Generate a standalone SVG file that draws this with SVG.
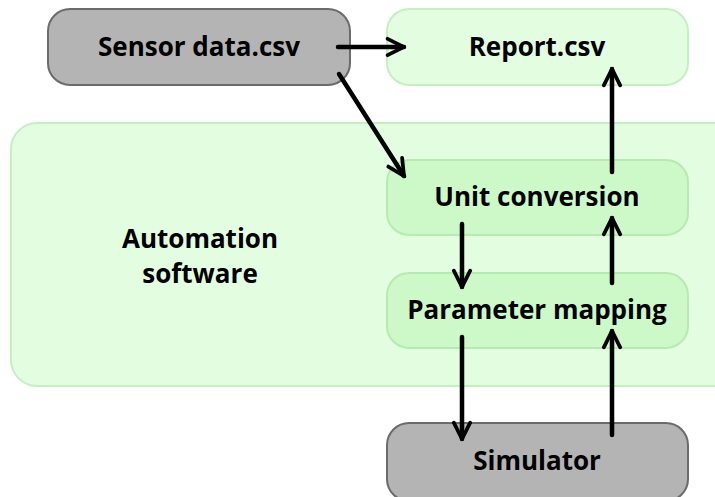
<svg xmlns="http://www.w3.org/2000/svg" width="715" height="497" viewBox="0 0 715 497">
<style>
text{font-family:"Open Sans","Liberation Sans",sans-serif;font-weight:bold;font-size:26px;fill:#000;text-anchor:middle}
.gray{fill:#b4b4b4;stroke:#6b6b6b;stroke-width:2}
.lite{fill:#e3fde0;stroke:#c6efc1;stroke-width:2}
.mid{fill:#cdf8c7;stroke:#b7eab0;stroke-width:2}
.c{stroke:#000;stroke-width:4.5;fill:none;stroke-linecap:round}
</style>
<defs>
<marker id="a" viewBox="0 0 10 10" refX="9" refY="5" markerWidth="5.2" markerHeight="5.2" orient="auto" markerUnits="strokeWidth">
<path d="M2,1.5 L9,5 L2,8.5" fill="none" stroke="#000" stroke-width="1.6" stroke-linecap="round" stroke-linejoin="miter"/>
</marker>
</defs>
<g id="automation">
<rect class="lite" x="11" y="123" width="730" height="263" rx="26"/>
<text x="200" y="248">Automation</text>
<text x="200" y="283">software</text>
</g>
<g id="sensor">
<rect class="gray" x="48" y="9" width="302" height="76" rx="22"/>
<text x="199" y="56">Sensor data.csv</text>
</g>
<g id="report">
<rect class="lite" x="387" y="9" width="301" height="76" rx="22"/>
<text x="537" y="56">Report.csv</text>
</g>
<g id="unit">
<rect class="mid" x="387" y="160" width="301" height="75" rx="22"/>
<text x="537" y="206">Unit conversion</text>
</g>
<g id="param">
<rect class="mid" x="387" y="273" width="301" height="75" rx="22"/>
<text x="537" y="319">Parameter mapping</text>
</g>
<g id="simulator">
<rect class="gray" x="387" y="423" width="301" height="78" rx="22"/>
<text x="537" y="470">Simulator</text>
</g>
<g id="connectors">
<path class="c" d="M338,47 L404,47" marker-end="url(#a)"/>
<path class="c" d="M339,74 L404,176" marker-end="url(#a)"/>
<path class="c" d="M612,172 L612,69" marker-end="url(#a)"/>
<path class="c" d="M462,224 L462,287" marker-end="url(#a)"/>
<path class="c" d="M612,283 L612,218" marker-end="url(#a)"/>
<path class="c" d="M462,337 L462,439" marker-end="url(#a)"/>
<path class="c" d="M612,435 L612,331" marker-end="url(#a)"/>
</g>
</svg>
